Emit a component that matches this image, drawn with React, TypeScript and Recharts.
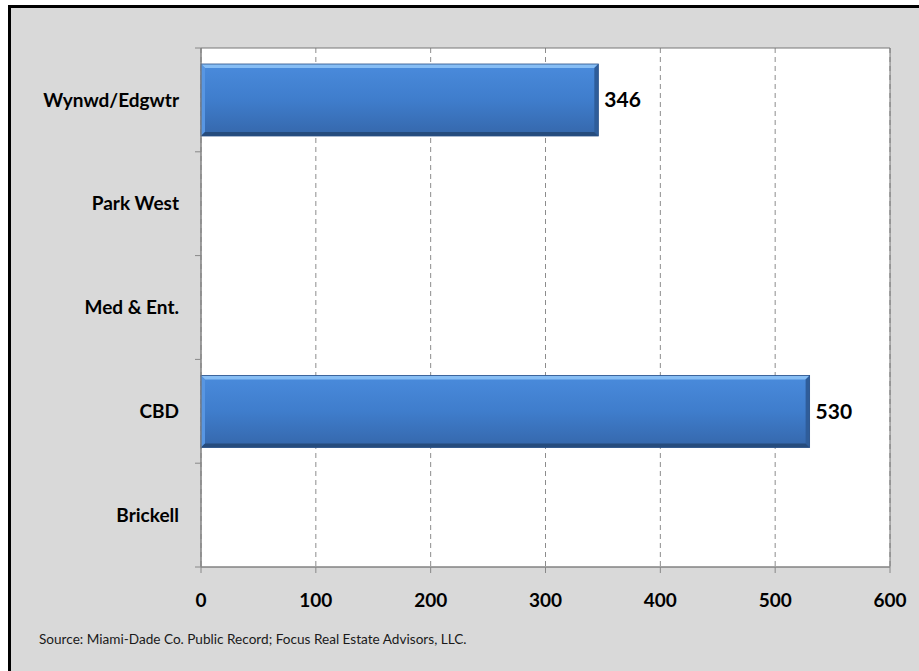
import React from 'react';
import {
  BarChart,
  Bar,
  XAxis,
  YAxis,
  CartesianGrid,
  LabelList,
  ReferenceArea,
} from 'recharts';

const areas = ['Wynwd/Edgwtr', 'Park West', 'Med & Ent.', 'CBD', 'Brickell'];
const units = [346, null, null, 530, null];
const xTicks = [0, 100, 200, 300, 400, 500, 600];

const data = areas.map((name, i) => ({ name, units: units[i] }));

const W = 919;
const H = 671;
const M = { top: 48, right: 29, bottom: 64, left: 6 };
const Y_AXIS_W = 195;
const X_AXIS_H = 40;
const plotH = H - M.top - M.bottom - X_AXIS_H;
const band = plotH / areas.length;
const FONT = 'Lato, "Open Sans", sans-serif';

// category label plus the little boundary ticks Excel draws between bands
const CategoryTick = (props: any) => {
  const { x, y, payload, index } = props;
  const axisX = x + 22;
  return (
    <g>
      <line x1={axisX - 6} x2={axisX} y1={y + band / 2} y2={y + band / 2} stroke="#888" />
      {index === 0 && (
        <line x1={axisX - 6} x2={axisX} y1={y - band / 2} y2={y - band / 2} stroke="#888" />
      )}
      <text
        x={x}
        y={y}
        dy="0.35em"
        textAnchor="end"
        fontFamily={FONT}
        fontWeight={700}
        fontSize={19}
        fill="#000"
      >
        {payload.value}
      </text>
    </g>
  );
};

const BevelBar = (props: any) => {
  const { x, y, width, height } = props;
  if (!width || width <= 0) return null;
  const b = 4;
  const x2 = x + width;
  const y2 = y + height;
  return (
    <g>
      <rect x={x} y={y} width={width} height={height} fill="url(#barFill)" />
      <polygon points={`${x},${y} ${x2},${y} ${x2 - b},${y + b} ${x + b},${y + b}`} fill="#86bdf4" />
      <polygon points={`${x},${y} ${x + b},${y + b} ${x + b},${y2 - b} ${x},${y2}`} fill="#5896e2" />
      <polygon points={`${x2},${y} ${x2},${y2} ${x2 - b},${y2 - b} ${x2 - b},${y + b}`} fill="#2f5d9a" />
      <polygon points={`${x},${y2} ${x2},${y2} ${x2 - b},${y2 - b} ${x + b},${y2 - b}`} fill="#264c7d" />
      <rect x={x} y={y} width={width} height={height} fill="none" stroke="#2a5188" strokeWidth={0.8} />
    </g>
  );
};

export default function App() {
  return (
    <div style={{ position: 'absolute', left: 0, top: 0, width: W, height: H, background: '#fff' }}>
      <div
        style={{
          position: 'absolute',
          left: 8,
          top: 5,
          width: W - 8,
          height: H - 5,
          background: '#d9d9d9',
          borderLeft: '3px solid #000',
          borderTop: '3px solid #000',
          boxSizing: 'border-box',
        }}
      />
      <div style={{ position: 'absolute', left: 0, top: 0 }}>
        <BarChart width={W} height={H} data={data} layout="vertical" margin={M} barSize={72}>
          <defs>
            <linearGradient id="barFill" x1="0" y1="0" x2="0" y2="1">
              <stop offset="0%" stopColor="#4a8bdc" />
              <stop offset="50%" stopColor="#3f7dcc" />
              <stop offset="100%" stopColor="#3567ab" />
            </linearGradient>
          </defs>
          <CartesianGrid
            horizontal={false}
            fill="#fff"
            stroke="#8c8c8c"
            strokeDasharray="5 4"
          />
          <ReferenceArea x1={0} x2={600} fill="none" stroke="#777" strokeWidth={1} ifOverflow="visible" />
          <XAxis
            type="number"
            domain={[0, 600]}
            ticks={xTicks}
            interval={0}
            height={X_AXIS_H}
            tickSize={6}
            tickMargin={21}
            stroke="#888"
            tick={{ fill: '#000', fontSize: 19, fontWeight: 700, fontFamily: FONT }}
          />
          <YAxis
            type="category"
            dataKey="name"
            width={Y_AXIS_W}
            tickSize={6}
            tickMargin={16}
            tickLine={false}
            stroke="#888"
            interval={0}
            tick={<CategoryTick />}
          />
          <Bar dataKey="units" shape={<BevelBar />} isAnimationActive={false}>
            <LabelList
              dataKey="units"
              position="right"
              offset={6}
              fill="#000"
              fontSize={21}
              fontWeight={700}
              fontFamily={FONT}
            />
          </Bar>
        </BarChart>
      </div>
      <div
        style={{
          position: 'absolute',
          left: 39,
          top: 631,
          fontFamily: FONT,
          fontSize: 13.6,
          color: '#1a1a1a',
          whiteSpace: 'nowrap',
        }}
      >
        Source: Miami-Dade Co. Public Record; Focus Real Estate Advisors, LLC.
      </div>
    </div>
  );
}
